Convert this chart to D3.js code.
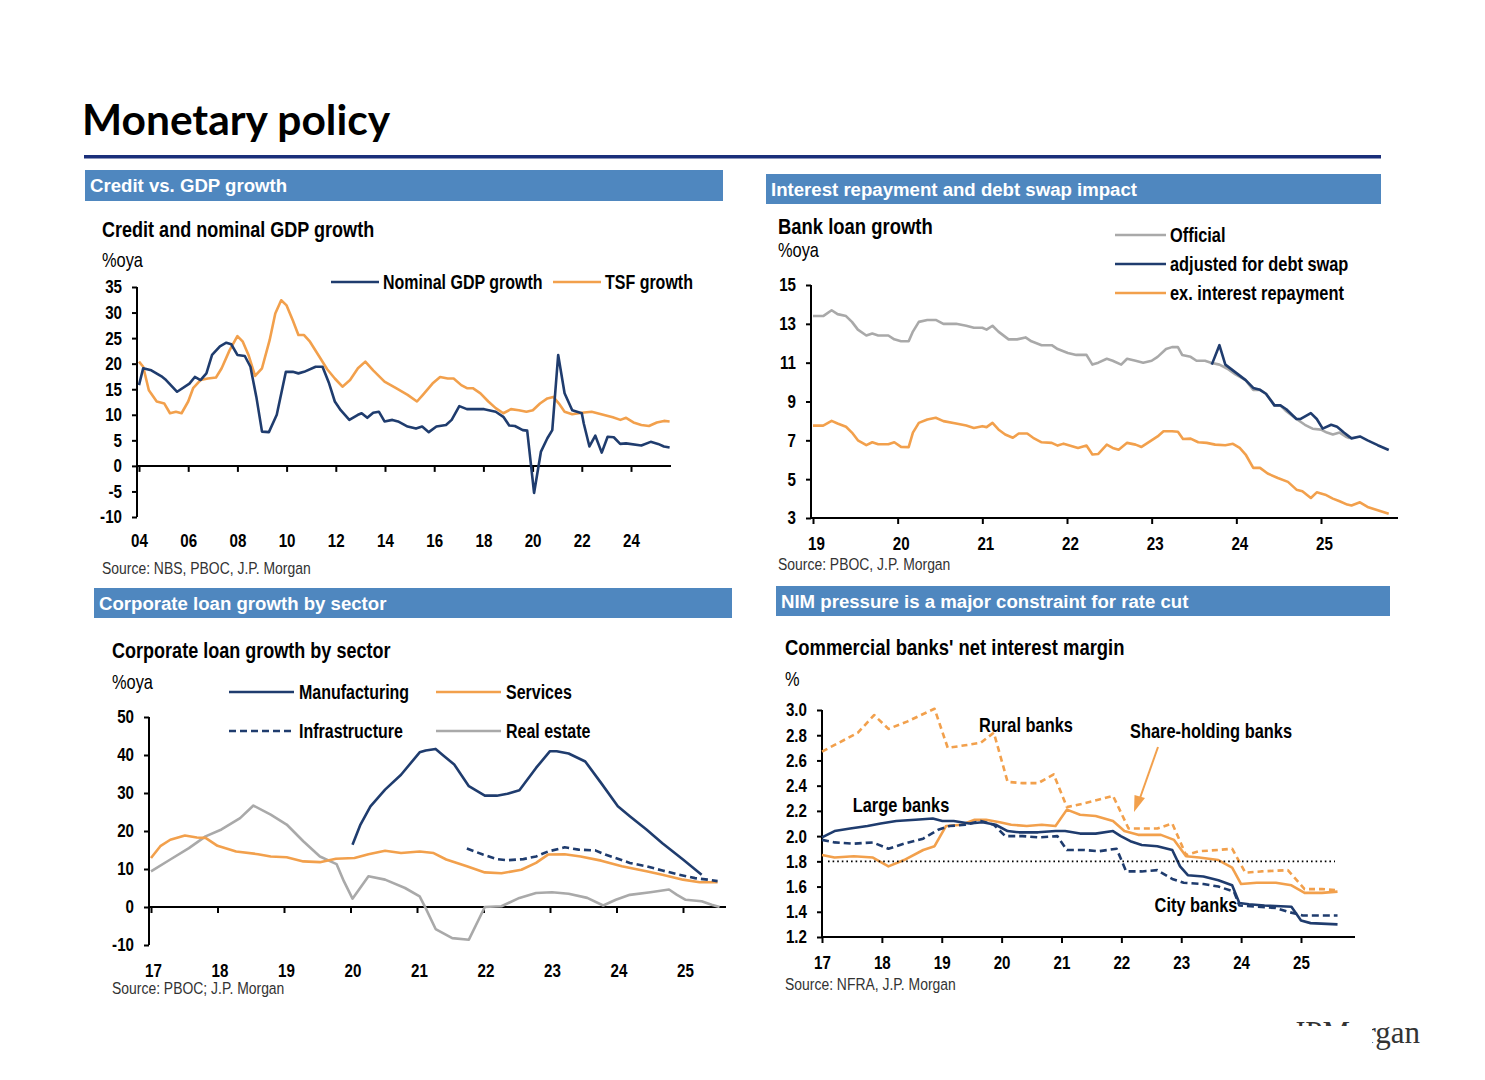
<!DOCTYPE html>
<html>
<head>
<meta charset="utf-8">
<script src="https://cdn.jsdelivr.net/npm/d3@7"></script>
<style>
  html,body{margin:0;padding:0;background:#fff;}
  svg{display:block;}
</style>
</head>
<body>
<svg id="page" width="1485" height="1080"></svg>
<script>
// ---------------- DATA ----------------
// Chart 1: Credit and nominal GDP growth (%oya)
const c1Ticks = [2004,2006,2008,2010,2012,2014,2016,2018,2020,2022,2024];
const c1TickLabels = ["04","06","08","10","12","14","16","18","20","22","24"];
const c1YTicks = [35,30,25,20,15,10,5,0,-5,-10];
const nominalGDP = [[2004.0,15.8],[2004.17,19.1],[2004.5,18.7],[2004.95,17.4],[2005.1,16.8],[2005.55,14.5],[2006.05,16.1],[2006.27,17.4],[2006.5,16.8],[2006.74,18.1],[2006.97,21.7],[2007.29,23.4],[2007.55,24.1],[2007.75,23.8],[2008.0,21.7],[2008.3,21.5],[2008.53,19.4],[2008.77,13.5],[2009.0,6.7],[2009.28,6.6],[2009.6,10.0],[2009.97,18.4],[2010.25,18.4],[2010.48,18.1],[2010.71,18.4],[2011.18,19.4],[2011.46,19.4],[2011.73,16.1],[2011.96,12.6],[2012.2,10.9],[2012.55,9.0],[2012.9,10.0],[2013.05,10.3],[2013.28,9.4],[2013.52,10.4],[2013.75,10.6],[2013.98,8.7],[2014.3,9.0],[2014.53,8.7],[2014.92,7.7],[2015.26,7.3],[2015.51,7.7],[2015.78,6.6],[2016.09,7.7],[2016.48,8.0],[2016.71,9.0],[2017.02,11.7],[2017.33,11.1],[2018.03,11.1],[2018.5,10.6],[2018.81,9.6],[2019.05,7.9],[2019.28,7.8],[2019.6,7.0],[2019.78,6.9],[2020.06,-5.3],[2020.34,2.8],[2020.6,5.4],[2020.8,7.0],[2021.04,21.7],[2021.3,14.2],[2021.61,10.9],[2022.0,10.3],[2022.08,8.3],[2022.31,3.8],[2022.55,5.9],[2022.81,2.6],[2023.05,5.7],[2023.3,5.6],[2023.56,4.3],[2023.8,4.4],[2024.42,4.0],[2024.8,4.7],[2025.1,4.3],[2025.34,3.8],[2025.57,3.6]];
const tsfGrowth = [[2004.0,20.4],[2004.17,19.4],[2004.4,14.8],[2004.72,12.6],[2005.03,12.2],[2005.26,10.3],[2005.5,10.6],[2005.73,10.3],[2006.0,12.6],[2006.2,15.2],[2006.5,16.8],[2006.8,17.1],[2007.13,17.3],[2007.36,19.1],[2007.68,22.6],[2008.0,25.4],[2008.22,24.3],[2008.45,21.7],[2008.72,17.6],[2009.0,19.1],[2009.31,24.6],[2009.54,29.8],[2009.78,32.4],[2010.0,31.4],[2010.25,28.5],[2010.48,25.6],[2010.71,25.6],[2010.95,24.3],[2011.34,21.3],[2011.65,18.9],[2011.96,17.1],[2012.27,15.5],[2012.58,16.8],[2012.9,19.1],[2013.2,20.4],[2013.52,18.7],[2013.98,16.5],[2014.45,15.2],[2014.92,13.9],[2015.3,12.6],[2015.54,13.9],[2015.93,16.1],[2016.24,17.4],[2016.55,17.1],[2016.79,17.1],[2017.1,15.8],[2017.33,15.2],[2017.57,15.2],[2017.88,14.2],[2018.2,12.6],[2018.5,11.3],[2018.81,10.3],[2019.12,11.1],[2019.44,10.9],[2019.75,10.6],[2020.01,10.9],[2020.3,12.2],[2020.6,13.2],[2020.84,13.5],[2021.07,12.2],[2021.3,10.6],[2021.61,10.1],[2022.0,10.4],[2022.4,10.6],[2022.87,10.0],[2023.26,9.5],[2023.57,9.0],[2023.8,9.4],[2024.1,8.5],[2024.42,8.0],[2024.73,7.8],[2025.05,8.5],[2025.34,8.8],[2025.57,8.7]];

// Chart 2: Bank loan growth (%oya)
const c2Ticks = [2019,2020,2021,2022,2023,2024,2025];
const c2TickLabels = ["19","20","21","22","23","24","25"];
const c2YTicks = [15,13,11,9,7,5,3];
const loanOfficial = [[2019.0,13.4],[2019.12,13.4],[2019.22,13.7],[2019.29,13.5],[2019.39,13.4],[2019.46,13.1],[2019.53,12.7],[2019.63,12.4],[2019.7,12.5],[2019.77,12.4],[2019.89,12.4],[2019.96,12.2],[2020.04,12.1],[2020.13,12.1],[2020.18,12.6],[2020.25,13.1],[2020.35,13.2],[2020.45,13.2],[2020.54,13.0],[2020.69,13.0],[2020.81,12.9],[2020.9,12.8],[2021.0,12.8],[2021.05,12.7],[2021.12,12.9],[2021.19,12.6],[2021.31,12.2],[2021.41,12.2],[2021.51,12.3],[2021.58,12.1],[2021.7,11.9],[2021.82,11.9],[2021.89,11.7],[2022.01,11.5],[2022.11,11.4],[2022.23,11.4],[2022.3,10.9],[2022.37,11.0],[2022.47,11.2],[2022.54,11.1],[2022.64,10.9],[2022.71,11.2],[2022.81,11.1],[2022.9,11.0],[2023.0,11.1],[2023.07,11.3],[2023.17,11.7],[2023.24,11.8],[2023.31,11.8],[2023.36,11.4],[2023.46,11.3],[2023.53,11.1],[2023.63,11.1],[2023.7,11.0],[2023.8,10.9],[2023.89,10.7],[2023.99,10.4],[2024.11,10.1],[2024.2,9.6],[2024.28,9.6],[2024.35,9.4],[2024.45,8.8],[2024.52,8.8],[2024.59,8.5],[2024.71,8.1],[2024.81,7.8],[2024.9,7.6],[2025.0,7.55],[2025.07,7.4],[2025.14,7.3],[2025.22,7.4],[2025.29,7.2],[2025.34,7.1]];
const loanAdjusted = [[2023.71,10.9],[2023.8,11.9],[2023.87,10.9],[2023.99,10.5],[2024.11,10.1],[2024.2,9.7],[2024.28,9.6],[2024.35,9.4],[2024.45,8.8],[2024.52,8.8],[2024.59,8.6],[2024.71,8.1],[2024.76,8.1],[2024.88,8.4],[2024.95,8.1],[2025.02,7.6],[2025.12,7.8],[2025.19,7.7],[2025.27,7.4],[2025.36,7.1],[2025.46,7.2],[2025.55,7.0],[2025.67,6.75],[2025.8,6.5]];
const loanExInterest = [[2019.0,7.76],[2019.12,7.76],[2019.22,8.0],[2019.29,7.87],[2019.39,7.7],[2019.46,7.4],[2019.53,7.0],[2019.63,6.75],[2019.7,6.9],[2019.77,6.8],[2019.89,6.8],[2019.96,6.9],[2020.04,6.66],[2020.13,6.65],[2020.18,7.4],[2020.25,7.9],[2020.35,8.07],[2020.45,8.16],[2020.54,7.99],[2020.69,7.87],[2020.81,7.76],[2020.9,7.64],[2021.0,7.73],[2021.05,7.68],[2021.12,7.9],[2021.19,7.56],[2021.27,7.3],[2021.36,7.13],[2021.43,7.35],[2021.53,7.35],[2021.6,7.13],[2021.7,6.9],[2021.82,6.87],[2021.89,6.73],[2021.96,6.83],[2022.06,6.7],[2022.13,6.61],[2022.23,6.73],[2022.3,6.27],[2022.37,6.3],[2022.47,6.78],[2022.54,6.61],[2022.61,6.52],[2022.71,6.87],[2022.81,6.78],[2022.88,6.66],[2022.98,6.95],[2023.07,7.2],[2023.14,7.47],[2023.24,7.47],[2023.31,7.44],[2023.37,7.07],[2023.46,7.09],[2023.55,6.9],[2023.65,6.87],[2023.75,6.78],[2023.87,6.75],[2023.96,6.82],[2024.04,6.61],[2024.11,6.27],[2024.2,5.58],[2024.28,5.58],[2024.37,5.29],[2024.49,5.06],[2024.61,4.86],[2024.71,4.46],[2024.78,4.38],[2024.88,4.03],[2024.95,4.32],[2025.05,4.2],[2025.14,4.0],[2025.22,3.86],[2025.31,3.69],[2025.36,3.64],[2025.46,3.81],[2025.55,3.57],[2025.67,3.4],[2025.8,3.22]];

// Chart 3: Corporate loan growth by sector (%oya)
const c3Ticks = [2017,2018,2019,2020,2021,2022,2023,2024,2025];
const c3TickLabels = ["17","18","19","20","21","22","23","24","25"];
const c3YTicks = [50,40,30,20,10,0,-10];
const manufacturing = [[2020.03,16.4],[2020.15,21.7],[2020.3,26.5],[2020.52,30.9],[2020.76,34.8],[2021.04,40.7],[2021.13,41.2],[2021.28,41.6],[2021.4,39.8],[2021.56,37.5],[2021.78,31.8],[2022.02,29.3],[2022.2,29.3],[2022.36,29.8],[2022.54,30.7],[2022.79,36.6],[2023.0,41.0],[2023.1,41.0],[2023.28,40.4],[2023.53,38.3],[2023.77,32.6],[2024.02,26.5],[2024.2,23.9],[2024.45,20.4],[2024.69,16.8],[2025.0,12.5],[2025.28,8.5]];
const infrastructure = [[2021.75,15.4],[2021.99,13.8],[2022.2,12.6],[2022.36,12.3],[2022.6,12.6],[2022.79,13.3],[2022.97,14.6],[2023.22,15.7],[2023.43,15.1],[2023.68,14.9],[2023.83,13.8],[2024.02,12.7],[2024.2,11.6],[2024.45,10.7],[2024.69,9.6],[2024.94,8.5],[2025.18,7.6],[2025.37,7.2],[2025.52,6.8]];
const services = [[2017.0,12.9],[2017.14,16.0],[2017.29,17.7],[2017.51,18.8],[2017.69,18.3],[2017.82,18.2],[2018.0,16.1],[2018.28,14.6],[2018.61,13.9],[2018.8,13.3],[2019.04,13.1],[2019.29,12.0],[2019.54,11.8],[2019.78,12.7],[2020.06,12.9],[2020.27,13.9],[2020.52,14.8],[2020.76,14.2],[2021.04,14.6],[2021.25,14.2],[2021.44,12.5],[2021.75,10.7],[2022.02,9.1],[2022.27,8.9],[2022.57,9.8],[2022.79,11.6],[2022.97,13.8],[2023.22,13.9],[2023.46,13.3],[2023.77,12.2],[2024.08,10.7],[2024.45,9.4],[2024.69,8.5],[2025.0,7.2],[2025.25,6.5],[2025.52,6.5]];
const realEstate = [[2017.0,9.4],[2017.29,12.5],[2017.57,15.5],[2017.82,18.6],[2018.06,20.4],[2018.34,23.4],[2018.54,26.7],[2018.8,24.3],[2019.04,21.7],[2019.29,17.3],[2019.54,13.3],[2019.79,11.3],[2019.9,6.8],[2020.03,2.2],[2020.27,8.1],[2020.52,7.2],[2020.82,5.0],[2021.04,2.8],[2021.13,-0.3],[2021.28,-5.8],[2021.53,-8.2],[2021.78,-8.6],[2022.02,0.0],[2022.27,0.2],[2022.54,2.4],[2022.79,3.7],[2023.03,3.9],[2023.28,3.5],[2023.56,2.4],[2023.8,0.4],[2023.99,1.9],[2024.2,3.2],[2024.51,3.9],[2024.79,4.6],[2024.91,3.2],[2025.04,1.9],[2025.28,1.5],[2025.43,0.6],[2025.55,0.0]];

// Chart 4: Commercial banks' net interest margin (%)
const c4Ticks = [2017,2018,2019,2020,2021,2022,2023,2024,2025];
const c4TickLabels = ["17","18","19","20","21","22","23","24","25"];
const c4YTicks = [3.0,2.8,2.6,2.4,2.2,2.0,1.8,1.6,1.4,1.2];
const nimReference = 1.8;
const largeBanks = [[2017.0,1.99],[2017.21,2.04],[2017.47,2.06],[2017.76,2.08],[2017.98,2.10],[2018.24,2.12],[2018.56,2.13],[2018.85,2.14],[2019.01,2.12],[2019.2,2.12],[2019.46,2.10],[2019.68,2.11],[2019.9,2.09],[2020.1,2.04],[2020.29,2.03],[2020.61,2.03],[2020.9,2.04],[2021.06,2.04],[2021.31,2.02],[2021.57,2.02],[2021.86,2.04],[2021.99,2.00],[2022.15,1.96],[2022.34,1.93],[2022.6,1.92],[2022.85,1.89],[2022.98,1.76],[2023.11,1.69],[2023.37,1.68],[2023.62,1.65],[2023.85,1.61],[2023.97,1.47],[2024.13,1.46],[2024.39,1.45],[2024.84,1.44],[2025.0,1.33],[2025.16,1.31],[2025.61,1.30]];
const cityBanks = [[2017.0,1.97],[2017.21,1.95],[2017.53,1.94],[2017.85,1.95],[2018.11,1.90],[2018.37,1.94],[2018.69,1.98],[2018.94,2.05],[2019.13,2.08],[2019.39,2.09],[2019.65,2.12],[2019.87,2.09],[2020.06,2.00],[2020.35,2.00],[2020.61,1.99],[2020.93,2.00],[2021.09,1.89],[2021.38,1.89],[2021.63,1.88],[2021.92,1.90],[2022.08,1.72],[2022.34,1.72],[2022.6,1.73],[2022.85,1.66],[2023.04,1.63],[2023.37,1.62],[2023.62,1.60],[2023.88,1.56],[2023.97,1.45],[2024.26,1.44],[2024.58,1.43],[2024.78,1.40],[2025.03,1.37],[2025.61,1.37]];
const shareholdingBanks = [[2017.0,1.85],[2017.21,1.83],[2017.53,1.84],[2017.85,1.83],[2018.11,1.76],[2018.37,1.81],[2018.69,1.89],[2018.88,1.92],[2019.07,2.08],[2019.33,2.09],[2019.55,2.13],[2019.74,2.13],[2019.97,2.11],[2020.16,2.09],[2020.42,2.08],[2020.67,2.09],[2020.9,2.08],[2021.09,2.21],[2021.31,2.17],[2021.57,2.16],[2021.86,2.12],[2022.05,2.04],[2022.28,2.01],[2022.66,2.01],[2022.88,1.97],[2023.08,1.84],[2023.3,1.83],[2023.62,1.81],[2023.85,1.75],[2024.0,1.62],[2024.26,1.63],[2024.58,1.63],[2024.84,1.61],[2025.06,1.55],[2025.35,1.55],[2025.61,1.56]];
const ruralBanks = [[2017.0,2.67],[2017.28,2.74],[2017.6,2.82],[2017.87,2.96],[2018.11,2.85],[2018.43,2.91],[2018.88,3.01],[2019.1,2.70],[2019.39,2.72],[2019.65,2.74],[2019.87,2.82],[2020.1,2.43],[2020.35,2.42],[2020.61,2.42],[2020.87,2.49],[2021.09,2.23],[2021.38,2.26],[2021.63,2.29],[2021.86,2.32],[2022.12,2.06],[2022.34,2.06],[2022.6,2.06],[2022.85,2.10],[2023.08,1.85],[2023.3,1.88],[2023.62,1.89],[2023.85,1.90],[2024.07,1.71],[2024.33,1.72],[2024.78,1.73],[2025.06,1.58],[2025.35,1.58],[2025.61,1.57]];

// ---------------- STYLE ----------------
const NAVY = "#1f3c6e", ORANGE = "#f2a04c", GREY = "#a9a9a9", BAR = "#4f87bf";
const SANS = "'Liberation Sans',Arial,sans-serif";
const NX = 0.82; // horizontal squeeze to mimic Arial Narrow

const svg = d3.select("#page");

// Page title and rule
svg.append("text").attr("x",82).attr("y",135).attr("font-family","Lato,'Open Sans',sans-serif")
  .attr("font-weight","bold").attr("font-size",42.5).attr("fill","#000").text("Monetary policy");
svg.append("rect").attr("x",84).attr("y",155).attr("width",1297).attr("height",3.5).attr("fill","#1a2f7a");

// narrow text helper
function txt(x,y,s,opts={}){
  return svg.append("text").attr("transform",`translate(${x},${y}) scale(${opts.sx||NX},1)`)
    .attr("font-family",SANS).attr("font-weight",opts.weight||"normal")
    .attr("font-size",opts.size||18).attr("fill",opts.fill||"#000")
    .attr("text-anchor",opts.anchor||"start").text(s);
}

// Section header bars
function header(x,y,w,h,label){
  svg.append("rect").attr("x",x).attr("y",y).attr("width",w).attr("height",h).attr("fill",BAR);
  txt(x+5,y+h/2+6.5,label,{weight:"bold",size:19,fill:"#fff",sx:0.98});
}
header(85,170,638,31,"Credit vs. GDP growth");
header(766,174,615,30,"Interest repayment and debt swap impact");
header(94,588,638,30,"Corporate loan growth by sector");
header(776,586,614,30,"NIM pressure is a major constraint for rate cut");

// Generic chart builder
function chart(cfg){
  const g = svg.append("g");
  const x = d3.scaleLinear().domain(cfg.xDomain).range(cfg.xRange);
  const y = d3.scaleLinear().domain(cfg.yDomain).range(cfg.yRange);
  // y axis
  const yAxis = d3.axisLeft(y).tickValues(cfg.yTicks).tickSize(5).tickPadding(0)
    .tickFormat(cfg.yFormat||(d=>d));
  const ya = g.append("g").attr("transform",`translate(${cfg.yAxisX},0)`).call(yAxis);
  ya.select(".domain").remove();
  ya.append("line").attr("x1",0).attr("x2",0).attr("y1",y(cfg.yDomain[1])).attr("y2",y(cfg.yDomain[0]))
    .attr("stroke","#000").attr("stroke-width",2);
  ya.selectAll(".tick line").attr("stroke","#000").attr("stroke-width",2);
  ya.selectAll(".tick text").attr("font-family",SANS).attr("font-weight","bold").attr("font-size",18.5).attr("fill","#000")
    .attr("x",-(cfg.yPad||15)/NX).attr("transform",`scale(${NX},1)`);
  // x axis at baseline value
  const xAxis = d3.axisBottom(x).tickValues(cfg.xTicks).tickSize(6).tickPadding(0).tickFormat((d,i)=>cfg.xLabels[i]);
  const xa = g.append("g").attr("transform",`translate(0,${y(cfg.xAxisAt)})`).call(xAxis);
  xa.select(".domain").remove();
  xa.append("line").attr("x1",cfg.yAxisX).attr("x2",cfg.xAxisEnd).attr("y1",0).attr("y2",0)
    .attr("stroke","#000").attr("stroke-width",2);
  xa.selectAll(".tick line").attr("stroke","#000").attr("stroke-width",2);
  xa.selectAll(".tick text").attr("font-family",SANS).attr("font-weight","bold").attr("font-size",18.5).attr("fill","#000")
    .attr("x",(cfg.labelDx||0)/NX).attr("y",cfg.labelY - y(cfg.xAxisAt)).attr("dy",0).attr("transform",`scale(${NX},1)`);
  // series
  const line = d3.line().x(d=>x(d[0])).y(d=>y(d[1]));
  cfg.series.forEach(s=>{
    g.append("path").datum(s.data).attr("d",line).attr("fill","none").attr("stroke",s.color)
      .attr("stroke-width",s.width||2.6).attr("stroke-dasharray",s.dash||null).attr("stroke-linejoin","round");
  });
  return {x,y,g};
}

// ---------- Chart 1 ----------
txt(102,237,"Credit and nominal GDP growth",{weight:"bold",size:22});
txt(102,267,"%oya",{size:20});
chart({xDomain:[2004,2024],xRange:[139,631],yDomain:[-10,35],yRange:[517,287],
  yAxisX:137,xAxisEnd:671,xAxisAt:0,yTicks:c1YTicks,xTicks:c1Ticks,xLabels:c1TickLabels,labelY:547,
  series:[{data:tsfGrowth,color:ORANGE},{data:nominalGDP,color:NAVY}]});
svg.append("line").attr("x1",331).attr("x2",379).attr("y1",282).attr("y2",282).attr("stroke",NAVY).attr("stroke-width",2.6);
txt(383,288.5,"Nominal GDP growth",{weight:"bold",size:19.5});
svg.append("line").attr("x1",553).attr("x2",601).attr("y1",282).attr("y2",282).attr("stroke",ORANGE).attr("stroke-width",2.6);
txt(605,288.5,"TSF growth",{weight:"bold",size:19.5});
txt(102,574,"Source: NBS, PBOC, J.P. Morgan",{size:17,fill:"#333"});

// ---------- Chart 2 ----------
txt(778,234,"Bank loan growth",{weight:"bold",size:22.5});
txt(778,257,"%oya",{size:20});
chart({xDomain:[2019,2025],xRange:[813,1321],yDomain:[3,15],yRange:[518,285],
  yAxisX:811,xAxisEnd:1398,xAxisAt:3,yTicks:c2YTicks,xTicks:c2Ticks,xLabels:c2TickLabels,labelY:550,labelDx:3,
  series:[{data:loanOfficial,color:GREY},{data:loanExInterest,color:ORANGE},{data:loanAdjusted,color:NAVY}]});
[[GREY,235,"Official"],[NAVY,264,"adjusted for debt swap"],[ORANGE,293,"ex. interest repayment"]].forEach(l=>{
  svg.append("line").attr("x1",1115).attr("x2",1166).attr("y1",l[1]).attr("y2",l[1]).attr("stroke",l[0]).attr("stroke-width",2.6);
  txt(1170,l[1]+6.5,l[2],{weight:"bold",size:20});
});
txt(778,570,"Source: PBOC, J.P. Morgan",{size:17,fill:"#333"});

// ---------- Chart 3 ----------
txt(112,658,"Corporate loan growth by sector",{weight:"bold",size:22});
txt(112,689,"%oya",{size:20});
chart({xDomain:[2017,2025],xRange:[151,683],yDomain:[-10,50],yRange:[945,717],
  yAxisX:149,xAxisEnd:726,xAxisAt:0,yTicks:c3YTicks,xTicks:c3Ticks,xLabels:c3TickLabels,labelY:977,labelDx:2,
  series:[{data:realEstate,color:GREY},{data:services,color:ORANGE},{data:infrastructure,color:NAVY,dash:"7,4"},{data:manufacturing,color:NAVY}]});
[[NAVY,229,692,null,"Manufacturing"],[ORANGE,436,692,null,"Services"],[NAVY,229,731,"7,4","Infrastructure"],[GREY,436,731,null,"Real estate"]].forEach(l=>{
  svg.append("line").attr("x1",l[1]).attr("x2",l[1]+65).attr("y1",l[2]).attr("y2",l[2]).attr("stroke",l[0])
    .attr("stroke-width",2.6).attr("stroke-dasharray",l[3]);
  txt(l[1]+70,l[2]+6.5,l[4],{weight:"bold",size:19.5});
});
txt(112,994,"Source: PBOC; J.P. Morgan",{size:17,fill:"#333"});

// ---------- Chart 4 ----------
txt(785,655,"Commercial banks' net interest margin",{weight:"bold",size:22.5});
txt(785,686,"%",{size:20});
const c4 = chart({xDomain:[2017,2025],xRange:[822,1301],yDomain:[1.2,3.0],yRange:[937,710],
  yAxisX:822,xAxisEnd:1355,xAxisAt:1.2,yTicks:c4YTicks,xTicks:c4Ticks,xLabels:c4TickLabels,labelY:969,
  yFormat:d3.format(".1f"),
  series:[{data:ruralBanks,color:ORANGE,dash:"6,4"},{data:shareholdingBanks,color:ORANGE},{data:cityBanks,color:NAVY,dash:"7,4"},{data:largeBanks,color:NAVY}]});
c4.g.append("line").attr("x1",828).attr("x2",1335).attr("y1",c4.y(nimReference)).attr("y2",c4.y(nimReference))
  .attr("stroke","#000").attr("stroke-width",1.6).attr("stroke-dasharray","1.6,3");
txt(1026,732,"Rural banks",{weight:"bold",size:20,anchor:"middle"});
txt(1211,738,"Share-holding banks",{weight:"bold",size:20,anchor:"middle"});
txt(901,812,"Large banks",{weight:"bold",size:20,anchor:"middle"});
txt(1196,912,"City banks",{weight:"bold",size:20,anchor:"middle"});
// arrow
svg.append("line").attr("x1",1158).attr("y1",747).attr("x2",1140).attr("y2",798).attr("stroke",ORANGE).attr("stroke-width",2);
svg.append("path").attr("d","M1134,812 L1134.5,795 L1145,798 Z").attr("fill",ORANGE);
txt(785,990,"Source: NFRA, J.P. Morgan",{size:17,fill:"#333"});

// Logo (partially masked)
svg.append("text").attr("x",1420).attr("y",1043).attr("text-anchor","end")
  .attr("font-family","'Liberation Serif','DejaVu Serif',serif").attr("font-size",31).attr("fill","#333").text("JPMorgan");
svg.append("rect").attr("x",1270).attr("y",1026).attr("width",102).attr("height",40).attr("fill","#fff");
</script>
</body>
</html>
